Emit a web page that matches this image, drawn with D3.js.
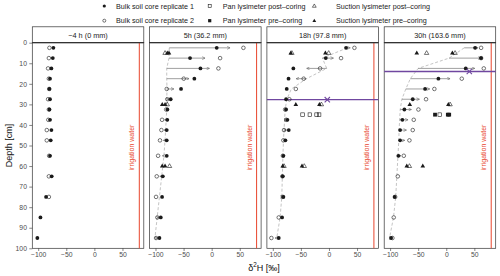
<!DOCTYPE html>
<html><head><meta charset="utf-8">
<script src="https://cdn.jsdelivr.net/npm/d3@7"></script>
<style>body{margin:0;background:#fff}svg{display:block}text{font-family:"Liberation Sans",Arial,Helvetica,sans-serif}</style>
</head><body><svg id="c" width="500" height="276"></svg>
<script>
// ---------- data ----------
const depths = [2.5,7.5,12.5,17.5,22.5,27.5,32.5,37.5,42.5,47.5,55,65,75,85,95];
const panelLabels = ["\u22124 h (0 mm)","5h (36.2 mm)","18h (97.8 mm)","30h (163.6 mm)"];
const xTicks = [-100,-50,0,50];
const yTicks = [0,10,20,30,40,50,60,70,80,90,100];

// bulk soil core replicate 1 (filled circles), per panel, per depth
const rep1_m4h = [-73,-74,-76.5,-79,-80,-79,-80,-79,-76.5,-77.7,-79,-76,-86,-96,-101.5];
const rep1_5h  = [9,-38.5,-20,-30.8,-54.5,-73,-78.8,-79,-80,-80,-80,-87,-88.3,-90.6,-93];
const rep1_18h = [30.4,-5.7,-63.4,-72,-75.2,-76.4,-76.4,-74,-71.6,-77.6,-81.2,-82.3,-81.2,-83.5,-89.4];
const rep1_30h = [51.3,62,34.7,-14,-37.7,-59.7,-74.6,-78.1,-82.2,-82.2,-85.3,null,-92,null,-98.2];
// bulk soil core replicate 2 (open circles)
const rep2_m4h = [-80,-81,-82.4,-81,-80.5,-82.4,-81,-82,-84.7,-84.7,-80.5,-81,-81,null,null];
const rep2_5h  = [56.5,15,12,-49.7,-80,-79,-81,-88.3,-89.5,-92,-95.4,-97.8,-99,-96.7,-99];
const rep2_18h = [45.3,21.5,-15.8,-45,-59,-70.5,-78,-76,-80,-81.2,-82,-83,-82,-89.4,-102.5];
const rep2_30h = [62,62,66.8,27.6,-21.2,-36,-49.6,-57.9,-59.7,-65.6,-75.6,-86.3,-91,-93.5,-95.9];
// previous-time-step profile (grey dashed line, arrow origins)
const prev_5h  = [-75.5,-76,-80,-80,-79.5,-80,-80,-81,-82,-83,-85,-89,-93,-97,-101];
const prev_18h = [32.7,-11.7,-4,-40,-67,-75,-78,-79,-80,-81,-82,-83,-84,-87,-93];
const prev_30h = [32,5,-50,-64,-72,-79,-82,-83,-84,-84.5,-86,-88,-90,-94,-101];

// lysimeters: [panel index, depth, δ2H]
const suctionPost = [[1,5,-83],[1,30,-79],[1,60,-75],[2,5,-66],[2,5,-0.5],[2,30,-13.5],[2,60,-80],[2,60,-44],[3,5,-35],[3,5,15.7],[3,30,6.8],[3,60,-65.6]];
const suctionPre  = [[1,5,-79],[1,5,-76],[1,30,-88],[1,30,-83],[1,60,-88],[1,60,-83],[2,5,-68],[2,5,-6.4],[2,30,-59],[2,30,-17],[2,60,-82.3],[2,60,-48],[3,5,-52.5],[3,5,10.9],[3,30,-65],[3,30,3.7],[3,60,-70.3],[3,60,-41.8]];
const panPost = [[2,35,-47],[2,35,-34],[2,35,-22],[2,35,-17.6],[3,35,-11.6]];
const panPre  = [[3,35,-20],[3,35,2.8],[3,35,5.2]];
// wetting front markers: [panel, depth, δ2H]
const front = [[2,27.7,-3],[3,14,41]];
const irrigation = 80;

const legendRow1 = ["Bulk soil core replicate 1","Pan lysimeter post\u2013coring","Suction lysimeter post\u2013coring"];
const legendRow2 = ["Bulk soil core replicate 2","Pan lysimeter pre\u2013coring","Suction lysimeter pre\u2013coring"];

// ---------- layout ----------
const rep1 = [rep1_m4h,rep1_5h,rep1_18h,rep1_30h];
const rep2 = [rep2_m4h,rep2_5h,rep2_18h,rep2_30h];
const prev = [null,prev_5h,prev_18h,prev_30h];

const svg = d3.select("#c");
const left0 = 32.3, pw = 111.5, step = 117.3, topY = 42.7, botY = 248.3;
const y = d3.scaleLinear().domain([0,100]).range([topY,botY]);
const xs = d3.range(4).map(i => d3.scaleLinear().domain([-110.5,88]).range([left0+i*step, left0+i*step+pw]));
const ink = "#1a1a1a", grey = "#4d4d4d", red = "#e8452c", purple = "#7047a0";

const defs = svg.append("defs");
defs.append("marker").attr("id","ah").attr("viewBox","0 0 10 10").attr("refX",9).attr("refY",5)
  .attr("markerWidth",3.6).attr("markerHeight",3.6).attr("markerUnits","userSpaceOnUse").attr("orient","auto")
  .append("path").attr("d","M1,1 L9,5 L1,9").attr("fill","none").attr("stroke","#666").attr("stroke-width",1.6);

function tri(cx,cy,s){const h=s*0.866;return `M${cx},${cy-h*0.62}L${cx+s/2},${cy+h*0.38}L${cx-s/2},${cy+h*0.38}Z`;}

for (let p=0;p<4;p++){
  const x = xs[p], g = svg.append("g");
  const L = x.range()[0], R = x.range()[1];
  // strip
  g.append("rect").attr("x",L).attr("y",26.8).attr("width",pw).attr("height",topY-26.8).attr("fill","#fff").attr("stroke","#333").attr("stroke-width",0.7);
  g.append("text").attr("x",(L+R)/2).attr("y",37.6).attr("text-anchor","middle").attr("font-size",7.3).attr("fill","#1a1a1a").text(panelLabels[p]);
  // panel border
  g.append("rect").attr("x",L).attr("y",topY).attr("width",pw).attr("height",botY-topY).attr("fill","none").attr("stroke","#333").attr("stroke-width",0.7);
  // irrigation
  g.append("line").attr("x1",x(irrigation)).attr("x2",x(irrigation)).attr("y1",topY).attr("y2",botY).attr("stroke",red).attr("stroke-width",1);
  const tx = x(irrigation)-5, ty = y(51);
  g.append("text").attr("transform",`translate(${tx},${ty}) rotate(-90)`).attr("text-anchor","middle").attr("font-size",7).attr("fill",red).text("irrigation water");
  // dashed previous profile
  if (prev[p]){
    const pts = depths.map((d,i)=>[prev[p][i],d]).filter(a=>a[0]!=null);
    g.append("path").attr("d",d3.line().x(a=>x(a[0])).y(a=>y(a[1]))(pts)).attr("fill","none")
      .attr("stroke","#b5b5b5").attr("stroke-width",0.8).attr("stroke-dasharray","3,2");
    // arrows from previous profile to current replicate mean
    depths.forEach((d,i)=>{
      const vals=[rep1[p][i],rep2[p][i]].filter(v=>v!=null);
      if(!vals.length) return;
      const m=d3.mean(vals), s=prev[p][i];
      if(Math.abs(m-s)<2) return;
      g.append("line").attr("x1",x(s)).attr("x2",x(m)).attr("y1",y(d)).attr("y2",y(d))
        .attr("stroke","#777").attr("stroke-width",0.7).attr("marker-end","url(#ah)");
    });
  }
  // depth 0 line
  g.append("line").attr("x1",L).attr("x2",R).attr("y1",y(0)).attr("y2",y(0)).attr("stroke","#333").attr("stroke-width",1.3);
  // wetting front line
  front.filter(f=>f[0]===p).forEach(f=>{
    g.append("line").attr("x1",L).attr("x2",R).attr("y1",y(f[1])).attr("y2",y(f[1])).attr("stroke",purple).attr("stroke-width",1.4);
  });
  // lysimeters
  panPost.filter(a=>a[0]===p).forEach(a=>g.append("rect").attr("x",x(a[2])-1.8).attr("y",y(a[1])-1.8).attr("width",3.6).attr("height",3.6).attr("fill","none").attr("stroke",ink).attr("stroke-width",0.6));
  panPre.filter(a=>a[0]===p).forEach(a=>g.append("rect").attr("x",x(a[2])-1.9).attr("y",y(a[1])-1.9).attr("width",3.8).attr("height",3.8).attr("fill",ink));
  suctionPost.filter(a=>a[0]===p).forEach(a=>g.append("path").attr("d",tri(x(a[2]),y(a[1]),4.4)).attr("fill","none").attr("stroke",ink).attr("stroke-width",0.6));
  suctionPre.filter(a=>a[0]===p).forEach(a=>g.append("path").attr("d",tri(x(a[2]),y(a[1]),4.6)).attr("fill",ink));
  // soil cores
  depths.forEach((d,i)=>{
    if(rep2[p][i]!=null) g.append("circle").attr("cx",x(rep2[p][i])).attr("cy",y(d)).attr("r",1.8).attr("fill","none").attr("stroke",ink).attr("stroke-width",0.6);
  });
  depths.forEach((d,i)=>{
    if(rep1[p][i]!=null) g.append("circle").attr("cx",x(rep1[p][i])).attr("cy",y(d)).attr("r",1.9).attr("fill",ink);
  });
  // front X
  front.filter(f=>f[0]===p).forEach(f=>{
    g.append("path").attr("d",d3.symbol(d3.symbolX,20)()).attr("transform",`translate(${x(f[2])},${y(f[1])})`).attr("stroke",purple).attr("stroke-width",1.1).attr("fill","none");
  });
  // x axis
  const xa = g.append("g").attr("transform",`translate(0,${botY})`)
    .call(d3.axisBottom(x).tickValues(xTicks).tickSize(2.7).tickPadding(1.5).tickFormat(d=>d<0?"\u2212"+Math.abs(d):d));
  xa.select(".domain").remove();
  xa.selectAll("line").attr("stroke","#333").attr("stroke-width",0.6);
  xa.selectAll("text").attr("font-size",6.8).attr("fill",grey).attr("font-family","Liberation Sans, Arial, sans-serif");
}
// y axis
const ya = svg.append("g").attr("transform",`translate(${left0},0)`)
  .call(d3.axisLeft(y).tickValues(yTicks).tickSize(3).tickPadding(2.4));
ya.select(".domain").remove();
ya.selectAll("line").attr("stroke","#333").attr("stroke-width",0.6);
ya.selectAll("text").attr("font-size",6.8).attr("fill",grey).attr("font-family","Liberation Sans, Arial, sans-serif");

// axis titles
svg.append("text").attr("transform","translate(12,145.5) rotate(-90)").attr("text-anchor","middle").attr("font-size",9).attr("fill","#111").text("Depth [cm]");
const xt = svg.append("text").attr("x",264).attr("y",270.5).attr("text-anchor","middle").attr("font-size",9).attr("fill","#111");
xt.append("tspan").text("\u03b4");
xt.append("tspan").attr("font-size",6.3).attr("dy",-3.2).text("2");
xt.append("tspan").attr("dy",3.2).text("H [\u2030]");

// legend
const lg = svg.append("g");
const colSym = [104.3,209.7,314.3], colTxt = [116,222.7,336], rowY = [6,20.7];
[legendRow1,legendRow2].forEach((row,r)=>row.forEach((t,c)=>{
  lg.append("text").attr("x",colTxt[c]).attr("y",rowY[r]+2.5).attr("font-size",7.2).attr("fill","#1a1a1a").text(t);
}));
const sx=colSym, sy=rowY;
lg.append("circle").attr("cx",sx[0]).attr("cy",sy[0]).attr("r",1.6).attr("fill",ink);
lg.append("circle").attr("cx",sx[0]).attr("cy",sy[1]).attr("r",1.5).attr("fill","none").attr("stroke",ink).attr("stroke-width",0.6);
lg.append("rect").attr("x",sx[1]-1.5).attr("y",sy[0]-1.5).attr("width",3).attr("height",3).attr("fill","none").attr("stroke",ink).attr("stroke-width",0.6);
lg.append("rect").attr("x",sx[1]-1.6).attr("y",sy[1]-1.6).attr("width",3.2).attr("height",3.2).attr("fill",ink);
lg.append("path").attr("d",tri(sx[2],sy[0],3.8)).attr("fill","none").attr("stroke",ink).attr("stroke-width",0.6);
lg.append("path").attr("d",tri(sx[2],sy[1],3.8)).attr("fill",ink);
</script></body></html>
